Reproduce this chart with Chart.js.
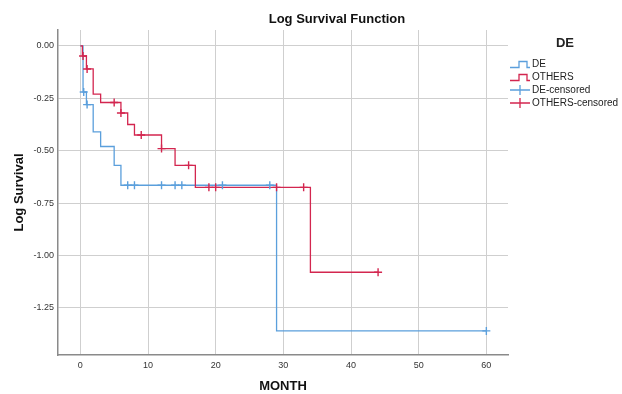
<!DOCTYPE html>
<html>
<head>
<meta charset="utf-8">
<script src="https://cdn.jsdelivr.net/npm/chart.js@4.4.1/dist/chart.umd.min.js"></script>
<style>
  html, body { margin: 0; padding: 0; background: #fff; }
  #wrap { position: relative; width: 622px; height: 394px; font-family: "Liberation Sans", Arial, sans-serif; }
  #title { position: absolute; left: 337px; top: 11px; transform: translateX(-50%); font-weight: bold; font-size: 13px; color: #111; white-space: nowrap; }
  #legend { position: absolute; left: 510px; top: 35px; font-size: 10px; color: #222; }
  #legend .head { font-weight: bold; font-size: 13px; text-align: center; width: 110px; margin-bottom: 7px; }
  #legend .row { height: 13px; line-height: 13px; white-space: nowrap; }
  #legend svg { vertical-align: -2px; margin-right: 2px; }
</style>
</head>
<body>
<div id="wrap">
  <canvas id="chart" width="622" height="394"></canvas>
  <div id="title">Log Survival Function</div>
  <div id="legend"></div>
</div>
<script>
// Datos de las curvas (mes, log supervivencia)
const deTime = [0, 0.4, 0.9, 1.9, 3, 5, 6, 29, 60];
const deLog = [0, -0.22, -0.28, -0.41, -0.48, -0.57, -0.665, -1.36, -1.36];

const othersTime = [0, 0.3, 0.9, 1.9, 3, 6, 7, 8, 12, 14, 17, 34, 44];
const othersLog = [0, -0.048, -0.11, -0.23, -0.27, -0.32, -0.375, -0.425, -0.49, -0.57, -0.675, -1.08, -1.08];

// Casos censurados
const deCensTime = [0.5, 1, 7, 8, 12, 14, 15, 21, 28, 60];
const deCensLog = [-0.22, -0.28, -0.665, -0.665, -0.665, -0.665, -0.665, -0.665, -0.665, -1.36];

const othersCensTime = [0.4, 1, 5, 6, 9, 12, 16, 19, 20, 29, 33, 44];
const othersCensLog = [-0.048, -0.11, -0.27, -0.32, -0.425, -0.49, -0.57, -0.675, -0.675, -0.675, -0.675, -1.08];

const xTicks = [0, 10, 20, 30, 40, 50, 60];
const yTicks = [0, -0.25, -0.5, -0.75, -1, -1.25];

const legendLabels = ['DE', 'OTHERS', 'DE-censored', 'OTHERS-censored'];

const azul = '#5b9fdc';
const rojo = '#d3264f';

function puntos(xs, ys) {
  return xs.map((x, i) => ({ x: x, y: ys[i] }));
}

const ctx = document.getElementById('chart').getContext('2d');

new Chart(ctx, {
  type: 'scatter',
  data: {
    datasets: [
      {
        label: legendLabels[0],
        data: puntos(deTime, deLog),
        showLine: true,
        stepped: 'before',
        borderColor: azul,
        borderWidth: 1.3,
        pointRadius: 0,
        order: 3
      },
      {
        label: legendLabels[1],
        data: puntos(othersTime, othersLog),
        showLine: true,
        stepped: 'before',
        borderColor: rojo,
        borderWidth: 1.3,
        pointRadius: 0,
        order: 2
      },
      {
        label: legendLabels[2],
        data: puntos(deCensTime, deCensLog),
        showLine: false,
        pointStyle: 'cross',
        pointRadius: 4,
        borderColor: azul,
        backgroundColor: azul,
        pointBorderWidth: 1.4,
        order: 1
      },
      {
        label: legendLabels[3],
        data: puntos(othersCensTime, othersCensLog),
        showLine: false,
        pointStyle: 'cross',
        pointRadius: 4,
        borderColor: rojo,
        backgroundColor: rojo,
        pointBorderWidth: 1.4,
        order: 0
      }
    ]
  },
  options: {
    responsive: false,
    animation: false,
    layout: { padding: { top: 30, right: 114, left: 0, bottom: 0 } },
    plugins: {
      legend: { display: false },
      title: { display: false },
      tooltip: { enabled: false }
    },
    scales: {
      x: {
        type: 'linear',
        min: -3.3,
        max: 63.2,
        afterBuildTicks: (scale) => { scale.ticks = xTicks.map(v => ({ value: v })); },
        afterFit: (scale) => { scale.height = 39; },
        grid: { color: '#cfcfcf', lineWidth: 1, drawTicks: false },
        border: { display: true, color: '#8a8a8a', width: 1.5 },
        ticks: {
          padding: 5,
          color: '#333',
          font: { family: '"Liberation Sans", Arial', size: 9 },
          callback: (v) => String(v)
        },
        title: {
          display: true,
          text: 'MONTH',
          color: '#111',
          font: { family: '"Liberation Sans", Arial', size: 13, weight: 'bold' },
          padding: { top: 0, bottom: 0 }
        }
      },
      y: {
        type: 'linear',
        min: -1.475,
        max: 0.076,
        afterBuildTicks: (scale) => { scale.ticks = yTicks.map(v => ({ value: v })); },
        afterFit: (scale) => { scale.width = 58; },
        grid: { color: '#cfcfcf', lineWidth: 1, drawTicks: false },
        border: { display: true, color: '#8a8a8a', width: 1.5 },
        ticks: {
          padding: 4,
          color: '#333',
          font: { family: '"Liberation Sans", Arial', size: 9 },
          callback: (v) => v.toFixed(2)
        },
        title: {
          display: true,
          text: 'Log Survival',
          color: '#111',
          font: { family: '"Liberation Sans", Arial', size: 13, weight: 'bold' },
          padding: { top: 12, bottom: 0 }
        }
      }
    }
  }
});

// Leyenda en HTML
const iconos = [
  `<svg width="20" height="10"><path d="M0,8.5 H9 V2.5 H17 V8.5 H20" fill="none" stroke="${azul}" stroke-width="1.3"/></svg>`,
  `<svg width="20" height="10"><path d="M0,8.5 H9 V2.5 H17 V8.5 H20" fill="none" stroke="${rojo}" stroke-width="1.3"/></svg>`,
  `<svg width="20" height="10"><path d="M0,5 H20 M10,0 V10" fill="none" stroke="${azul}" stroke-width="1.3"/></svg>`,
  `<svg width="20" height="10"><path d="M0,5 H20 M10,0 V10" fill="none" stroke="${rojo}" stroke-width="1.3"/></svg>`
];
const leyenda = document.getElementById('legend');
let html = '<div class="head">DE</div>';
legendLabels.forEach((lab, i) => {
  html += `<div class="row">${iconos[i]}${lab}</div>`;
});
leyenda.innerHTML = html;
</script>
</body>
</html>
